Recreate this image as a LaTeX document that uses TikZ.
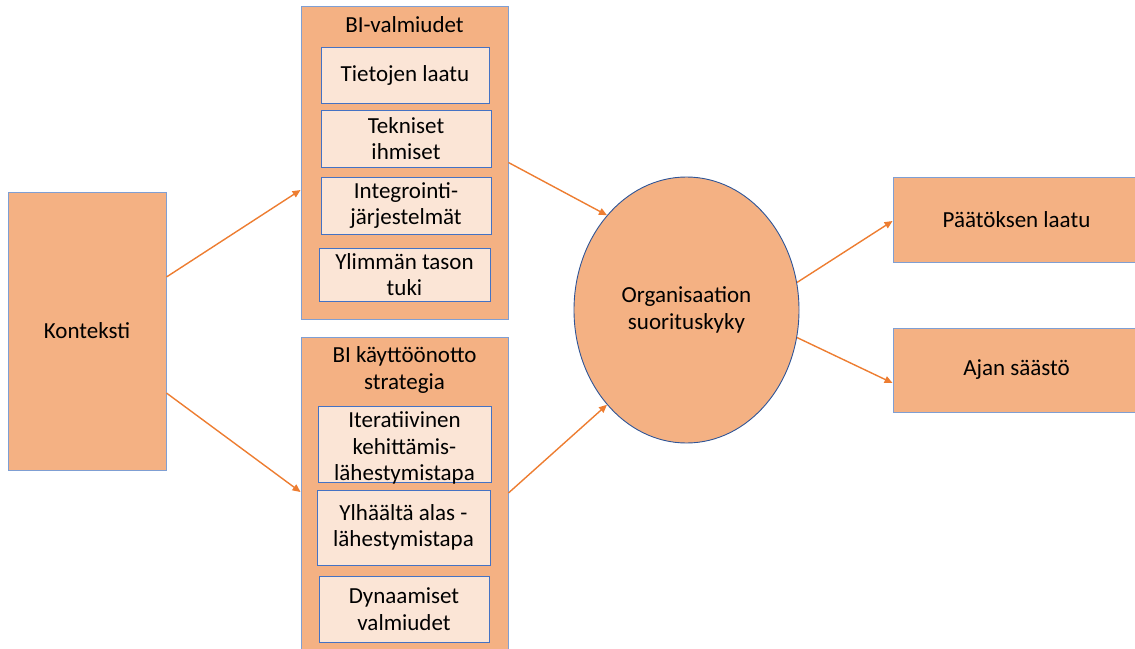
\documentclass[tikz,border=0pt]{standalone}
\usepackage{fontspec}
\setmainfont{Carlito}
\usepackage{tikz}
\usetikzlibrary{shapes.geometric}
\usetikzlibrary{arrows.meta}
\definecolor{boxfill}{HTML}{F4B183}
\definecolor{innerfill}{HTML}{FBE5D6}
\definecolor{outerline}{HTML}{7F9FD3}
\definecolor{innerline}{HTML}{4472C4}
\definecolor{ovalline}{HTML}{2F5597}
\definecolor{arroworange}{HTML}{ED7D31}

\begin{document}
\begin{tikzpicture}[x=1pt, y=-1pt,
							textfont/.style={font=\fontsize{23}{26.5}\selectfont},
							mainbox/.style={rectangle, draw=outerline, line width=0.9pt, fill=boxfill, inner sep=0pt, textfont},
							innerbox/.style={rectangle, draw=innerline, line width=0.9pt, fill=innerfill, inner sep=0pt, align=center, textfont},
							titlenode/.style={inner sep=0pt, align=center, textfont},
							ovalnode/.style={ellipse, draw=ovalline, line width=0.9pt, fill=boxfill, inner sep=0pt, align=center, minimum width=225pt, minimum height=266pt, textfont},
							linkarrow/.style={draw=arroworange, line width=1.4pt, -{Triangle[length=8pt, width=7pt]}},
							]
							\useasboundingbox (0,0) rectangle (1135,648);
							%Nodes
							\node[mainbox, minimum width=158pt, minimum height=278pt]   (konteksti)  at (87,331)      {Konteksti};
							\node[mainbox, minimum width=207pt, minimum height=313pt]   (valmiudet)  at (404.5,162.5) {};
							\node[titlenode]                                            (valmtitle)  at (404.5,25)    {BI-valmiudet};
							\node[innerbox, minimum width=168pt, minimum height=56pt]   (laatu)      at (405,75)      {Tietojen laatu};
							\node[innerbox, minimum width=170pt, minimum height=57pt]   (ihmiset)    at (406,138.5)   {Tekniset\\ihmiset};
							\node[innerbox, minimum width=170pt, minimum height=57pt]   (integr)     at (406,205.5)   {Integrointi-\\järjestelmät};
							\node[innerbox, minimum width=171pt, minimum height=53pt]   (tuki)       at (404.5,274.5) {Ylimmän tason\\tuki};
							\node[mainbox, minimum width=207pt, minimum height=318pt]   (strategia)  at (404.5,496)   {};
							\node[titlenode]                                            (strattitle) at (404.5,370)   {BI käyttöönotto\\strategia};
							\node[innerbox, minimum width=173pt, minimum height=76pt]   (iter)       at (404.5,444)   {};
							\node[titlenode]                                            (itertext)   at (404.5,448)   {Iteratiivinen\\kehittämis-\\lähestymistapa};
							\node[innerbox, minimum width=173pt, minimum height=75pt]   (ylhaalta)   at (403.5,527.5) {Ylhäältä alas -\\lähestymistapa};
							\node[innerbox, minimum width=170pt, minimum height=66pt]   (dynaam)     at (404,609)     {Dynaamiset\\valmiudet};
							\node[ovalnode]                                             (suoritus)   at (686.5,310)   {Organisaation\\suorituskyky};
							\node[mainbox, minimum width=247pt, minimum height=85pt]    (paatos)     at (1016.5,219.5) {Päätöksen laatu};
							\node[mainbox, minimum width=247pt, minimum height=84pt]    (ajan)       at (1016.5,370)  {Ajan säästö};

							%Lines
							\draw[linkarrow] ([yshift=54pt]konteksti.east)  --  ([yshift=-27.5pt]valmiudet.west);
							\draw[linkarrow] ([yshift=-62pt]konteksti.east) --  ([yshift=4pt]strategia.west);
							\draw[linkarrow] (valmiudet.east)               --  (suoritus.130);
							\draw[linkarrow] ([yshift=3pt]strategia.east)   --  (suoritus.230);
							\draw[linkarrow] (suoritus.14)                  --  ([yshift=-1.5pt]paatos.west);
							\draw[linkarrow] (suoritus.-14)                 --  ([yshift=-13pt]ajan.west);
						\end{tikzpicture}
\end{document}
